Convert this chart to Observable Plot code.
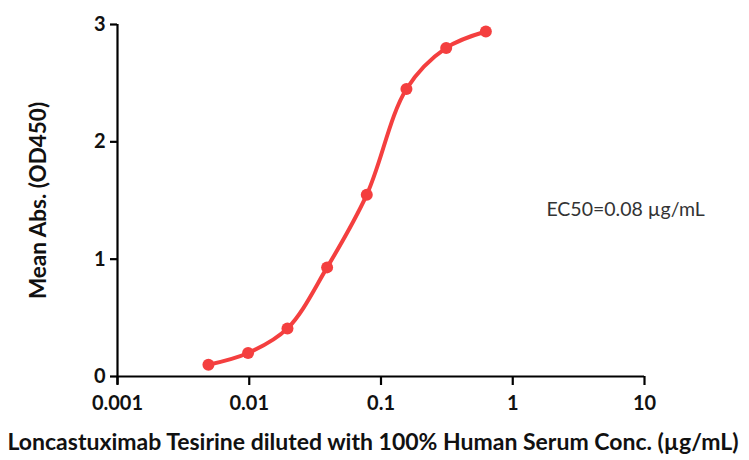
<!DOCTYPE html>
<html><head><meta charset="utf-8">
<script src="https://cdn.jsdelivr.net/npm/d3@7"></script>
<script src="https://cdn.jsdelivr.net/npm/@observablehq/plot@0.6"></script>
<style>
body{margin:0;background:#fff;}
svg{font-family:Lato,"Open Sans",sans-serif;}
</style></head>
<body><div id="chart"></div>
<script>
const concentrations = [0.0049, 0.0098, 0.0195, 0.039, 0.078, 0.156, 0.3125, 0.625];
const meanAbs = [0.10, 0.20, 0.41, 0.93, 1.55, 2.45, 2.80, 2.94];
const xTicks = [0.001, 0.01, 0.1, 1, 10];
const xTickLabels = ["0.001", "0.01", "0.1", "1", "10"];
const yTicks = [0, 1, 2, 3];
const yTickLabels = ["0", "1", "2", "3"];
const xTitle = "Loncastuximab Tesirine diluted with 100% Human Serum Conc. (µg/mL)";
const yTitle = "Mean Abs. (OD450)";
const annotationText = ["EC50=0.08 µg/mL"];
const annotationX = [1.8];
const annotationY = [1.42];

const data = concentrations.map((c, i) => ({conc: c, abs: meanAbs[i]}));
const notes = annotationText.map((t, i) => ({text: t, x: annotationX[i], y: annotationY[i]}));
const red = "#f43f3f";

const chart = Plot.plot({
  width: 749,
  height: 460,
  marginLeft: 117,
  marginRight: 105,
  marginTop: 24,
  marginBottom: 84,
  style: {fontFamily: "Lato, 'Open Sans', sans-serif", background: "#fff"},
  x: {type: "log", domain: [0.001, 10]},
  y: {domain: [0, 3]},
  marks: [
    Plot.axisX({ticks: xTicks, tickFormat: d => xTickLabels[xTicks.indexOf(d)], tickSize: 9, tickPadding: 10, strokeWidth: 2.2,
      fontSize: 20, fontWeight: "bold", fill: "#111", label: null}),
    Plot.axisY({ticks: yTicks, tickFormat: d => yTickLabels[yTicks.indexOf(d)], tickSize: 7, tickPadding: 5, strokeWidth: 2.2,
      fontSize: 20, fontWeight: "bold", fill: "#111", label: null}),
    Plot.text([xTitle], {frameAnchor: "bottom", dy: 66, dx: -8, fontSize: 23, fontWeight: "bold", fill: "#111", lineAnchor: "middle", textAnchor: "middle"}),
    Plot.text([yTitle], {frameAnchor: "left", dx: -79, rotate: -90, fontSize: 22.5, fontWeight: "bold", fill: "#111", lineAnchor: "middle", textAnchor: "middle"}),
    Plot.ruleY([0], {x1: xTicks[0], x2: xTicks[xTicks.length - 1], strokeWidth: 2.2}),
    Plot.ruleX([xTicks[0]], {y1: -0.07, y2: yTicks[yTicks.length - 1], strokeWidth: 2.2}),
    Plot.line(data, {x: "conc", y: "abs", stroke: red, strokeWidth: 4, curve: "catmull-rom"}),
    Plot.dot(data, {x: "conc", y: "abs", r: 6, fill: red}),
    Plot.text(notes, {x: "x", y: "y", text: "text", textAnchor: "start", fontSize: 19.5, fill: "#333"})
  ]
});
document.getElementById("chart").appendChild(chart);
</script></body></html>
